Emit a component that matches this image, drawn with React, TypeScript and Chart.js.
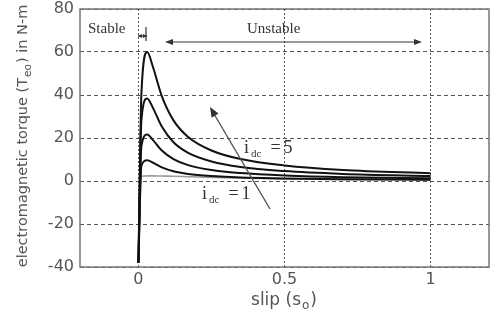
import React, { useEffect, useRef } from 'react';
import { Chart, registerables } from 'chart.js';

Chart.register(...registerables);

// slip values (s_o) and torque curves (N-m)
const slip = [0, 0.01, 0.03, 0.05, 0.08, 0.12, 0.17, 0.25, 0.35, 0.5, 0.7, 1.0];
const idc5 = [-38, 40, 60, 52.9, 39.5, 28.2, 20.5, 14.2, 10.2, 7.2, 5.1, 3.6];
const idc4 = [-38, 28, 38.4, 33.9, 25.3, 18.0, 13.1, 9.1, 6.5, 4.6, 3.3, 2.3];
const idc3 = [-38, 16, 21.6, 19.0, 14.2, 10.2, 7.4, 5.1, 3.7, 2.6, 1.8, 1.3];
const idc2 = [-38, 7, 9.6, 8.5, 6.3, 4.5, 3.3, 2.3, 1.6, 1.2, 0.8, 0.6];
const idc1 = [-38, 2.2, 2.4, 2.4, 2.3, 2.2, 2.0, 1.7, 1.4, 1.0, 0.7, 0.5];

const xTicks = [0, 0.5, 1];
const xMin = -0.2;
const xMax = 1.2;
const yMin = -40;
const yMax = 80;
const yStep = 20;

const series = [
  { label: 'idc=5', values: idc5, color: '#111111', width: 2 },
  { label: 'idc=4', values: idc4, color: '#111111', width: 2 },
  { label: 'idc=3', values: idc3, color: '#111111', width: 2 },
  { label: 'idc=2', values: idc2, color: '#111111', width: 2 },
  { label: 'idc=1', values: idc1, color: '#9a9a9a', width: 1.6 },
];

type Part = { t: string; sub?: boolean; dx?: number };

function drawParts(
  ctx: CanvasRenderingContext2D,
  parts: Part[],
  x: number,
  y: number,
  family: string,
  size: number,
  subSize: number,
  subDrop: number,
  center: boolean
) {
  const widths = parts.map((p) => {
    ctx.font = `${p.sub ? subSize : size}px ${family}`;
    return ctx.measureText(p.t).width + (p.dx || 0);
  });
  const total = widths.reduce((a, b) => a + b, 0);
  let cx = center ? x - total / 2 : x;
  parts.forEach((p, i) => {
    ctx.font = `${p.sub ? subSize : size}px ${family}`;
    ctx.fillText(p.t, cx + (p.dx || 0), p.sub ? y + subDrop : y);
    cx += widths[i];
  });
}

function arrowHead(
  ctx: CanvasRenderingContext2D,
  x1: number,
  y1: number,
  x2: number,
  y2: number,
  len: number,
  half: number
) {
  const a = Math.atan2(y2 - y1, x2 - x1);
  ctx.beginPath();
  ctx.moveTo(x2, y2);
  ctx.lineTo(x2 - len * Math.cos(a) + half * Math.sin(a), y2 - len * Math.sin(a) - half * Math.cos(a));
  ctx.lineTo(x2 - len * Math.cos(a) - half * Math.sin(a), y2 - len * Math.sin(a) + half * Math.cos(a));
  ctx.closePath();
  ctx.fill();
}

const decorPlugin = {
  id: 'decor',
  beforeDraw(chart: any) {
    const { ctx, width, height } = chart;
    ctx.save();
    ctx.fillStyle = '#ffffff';
    ctx.fillRect(0, 0, width, height);
    ctx.restore();
  },
  afterDraw(chart: any) {
    const { ctx, chartArea } = chart;
    ctx.save();
    // frame
    ctx.strokeStyle = '#777777';
    ctx.lineWidth = 1.5;
    ctx.strokeRect(chartArea.left, chartArea.top, chartArea.right - chartArea.left, chartArea.bottom - chartArea.top);

    // axis titles
    ctx.fillStyle = '#555555';
    ctx.textBaseline = 'alphabetic';
    drawParts(
      ctx,
      [{ t: 'slip (s' }, { t: 'o', sub: true, dx: 1 }, { t: ')', dx: 1 }],
      284,
      305,
      '"DejaVu Sans"',
      17,
      12,
      4,
      true
    );
    ctx.save();
    ctx.translate(27, 136);
    ctx.rotate(-Math.PI / 2);
    drawParts(
      ctx,
      [{ t: 'electromagnetic torque (T' }, { t: 'eo', sub: true, dx: 1 }, { t: ') in N-m', dx: 1 }],
      0,
      0,
      '"DejaVu Sans"',
      14.5,
      10.5,
      4,
      true
    );
    ctx.restore();

    // Stable / Unstable annotations
    ctx.fillStyle = '#333333';
    ctx.font = '15px "Liberation Serif"';
    ctx.fillText('Stable', 88, 33);
    ctx.fillText('Unstable', 247, 33);

    ctx.strokeStyle = '#333333';
    ctx.fillStyle = '#333333';
    ctx.lineWidth = 1.2;
    // short double arrow
    ctx.beginPath();
    ctx.moveTo(138, 36);
    ctx.lineTo(147, 36);
    ctx.stroke();
    arrowHead(ctx, 147, 36, 138, 36, 4, 2);
    arrowHead(ctx, 138, 36, 147, 36, 4, 2);
    ctx.beginPath();
    ctx.moveTo(146, 27);
    ctx.lineTo(146, 41);
    ctx.stroke();
    // long double arrow
    ctx.beginPath();
    ctx.moveTo(168, 42);
    ctx.lineTo(419, 42);
    ctx.stroke();
    arrowHead(ctx, 420, 42, 165, 42, 8, 3);
    arrowHead(ctx, 165, 42, 422, 42, 8, 3);

    // diagonal arrow
    ctx.strokeStyle = '#555555';
    ctx.fillStyle = '#333333';
    ctx.lineWidth = 1.4;
    ctx.beginPath();
    ctx.moveTo(270, 209);
    ctx.lineTo(214, 114);
    ctx.stroke();
    arrowHead(ctx, 270, 209, 210, 107, 10, 4);

    // idc labels
    ctx.fillStyle = '#333333';
    drawParts(
      ctx,
      [{ t: 'i' }, { t: 'dc', sub: true, dx: 2 }, { t: '=', dx: 9 }, { t: '5', dx: 3 }],
      244,
      153,
      '"Liberation Serif"',
      18,
      11,
      4,
      false
    );
    drawParts(
      ctx,
      [{ t: 'i' }, { t: 'dc', sub: true, dx: 2 }, { t: '=', dx: 9 }, { t: '1', dx: 3 }],
      202,
      199,
      '"Liberation Serif"',
      18,
      11,
      4,
      false
    );
    ctx.restore();
  },
};

export default function App() {
  const ref = useRef<HTMLCanvasElement | null>(null);

  useEffect(() => {
    if (!ref.current) return;
    const chart = new Chart(ref.current, {
      type: 'line',
      data: {
        datasets: series.map((s) => ({
          label: s.label,
          data: slip.map((x, i) => ({ x, y: s.values[i] })),
          borderColor: s.color,
          borderWidth: s.width,
          pointRadius: 0,
          fill: false,
          cubicInterpolationMode: 'monotone' as const,
        })),
      },
      options: {
        responsive: false,
        animation: false,
        layout: { padding: { top: 9, right: 10, left: 0, bottom: 0 } },
        plugins: { legend: { display: false }, tooltip: { enabled: false } },
        scales: {
          x: {
            type: 'linear',
            min: xMin,
            max: xMax,
            afterBuildTicks: (scale: any) => {
              scale.ticks = xTicks.map((v) => ({ value: v }));
            },
            afterFit: (scale: any) => {
              scale.height = 53;
              scale.paddingLeft = 0;
              scale.paddingRight = 0;
            },
            ticks: {
              color: '#555555',
              font: { family: '"DejaVu Sans"', size: 16 },
              padding: 3,
              maxRotation: 0,
              callback: (v: any) => String(v),
            },
            grid: { color: '#555555', lineWidth: 1, drawTicks: false },
            border: { display: false, dash: [2, 2] },
          },
          y: {
            type: 'linear',
            min: yMin,
            max: yMax,
            afterFit: (scale: any) => {
              scale.width = 80;
              scale.paddingTop = 0;
              scale.paddingBottom = 0;
            },
            ticks: {
              stepSize: yStep,
              color: '#555555',
              font: { family: '"DejaVu Sans"', size: 16 },
              padding: 6,
            },
            grid: { color: '#555555', lineWidth: 1, drawTicks: false },
            border: { display: false, dash: [4, 3] },
          },
        },
      },
      plugins: [decorPlugin],
    });
    return () => chart.destroy();
  }, []);

  return (
    <div style={{ position: 'fixed', left: 0, top: 0, width: 499, height: 320, background: '#fff' }}>
      <canvas ref={ref} width={499} height={320} />
    </div>
  );
}
